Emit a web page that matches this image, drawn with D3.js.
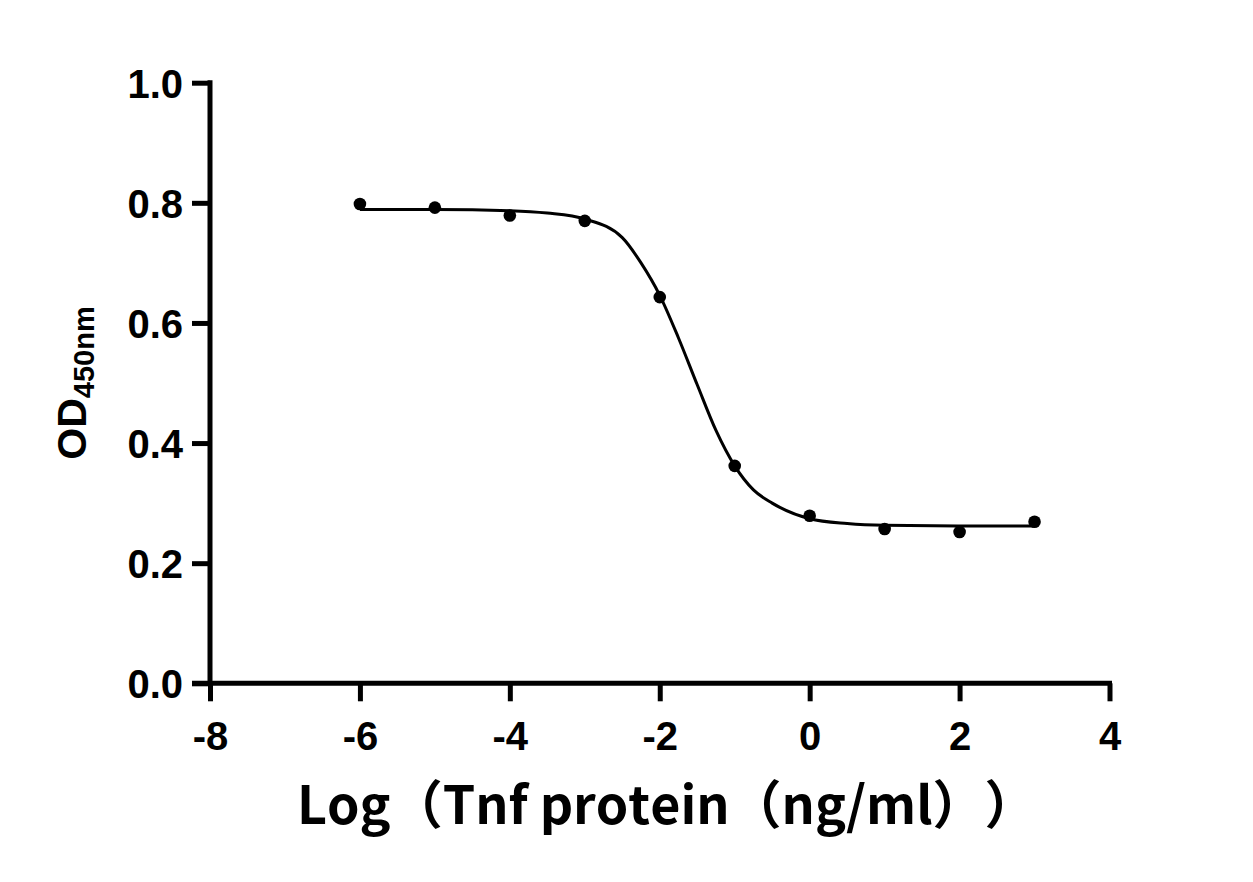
<!DOCTYPE html>
<html>
<head>
<meta charset="utf-8">
<script src="https://cdn.jsdelivr.net/npm/d3@7"></script>
<style>
  body { margin: 0; background: #fff; }
  svg { display: block; }
  .tick text { font-family: "Liberation Sans", Arial, sans-serif; font-weight: bold; }
  .xtitle { text-spacing-trim: space-all; font-kerning: none; }
</style>
</head>
<body>
<div id="chart"></div>
<script>
// measured points (log dose vs OD450)
var logDose = [-6, -5, -4, -3, -2, -1, 0, 1, 2, 3];
var odValues = [0.798, 0.792, 0.779, 0.770, 0.643, 0.362, 0.279, 0.257, 0.252, 0.269];

// fitted curve
var curveX = [-6, -5, -4, -3.5, -3, -2.5, -2.25, -2, -1.75, -1.5, -1.25, -1, -0.75, -0.5, 0, 0.5, 1, 2, 3];
var curveY = [0.789, 0.789, 0.787, 0.783, 0.773, 0.742, 0.700, 0.646, 0.575, 0.497, 0.421, 0.362, 0.322, 0.300, 0.274, 0.266, 0.263, 0.262, 0.262];

var xTicks = [-8, -6, -4, -2, 0, 2, 4];
var yTicks = [0.0, 0.2, 0.4, 0.6, 0.8, 1.0];

var W = 1253, H = 882;
var svg = d3.select('#chart').append('svg').attr('width', W).attr('height', H);

var x = d3.scaleLinear().domain([-8, 4]).range([210, 1109.5]);
var y = d3.scaleLinear().domain([0, 1]).range([683.3, 82.7]);
var axisW = 5;

// y axis
var yAxis = svg.append('g')
  .attr('transform', 'translate(210,0)')
  .call(d3.axisLeft(y).tickValues(yTicks).tickFormat(d3.format('.1f')).tickSize(18).tickPadding(9).tickSizeOuter(0));
yAxis.select('.domain').attr('stroke-width', axisW).attr('stroke', '#000')
  .attr('d', 'M0,' + (y(1) - axisW / 2) + 'V' + y(0));
yAxis.selectAll('.tick line').attr('stroke-width', axisW).attr('stroke', '#000');
yAxis.selectAll('.tick text').attr('font-size', 40).attr('fill', '#000').attr('dy', '0.36em');

// x axis, plain hyphen for negatives like the original
var xAxis = svg.append('g')
  .attr('transform', 'translate(0,683.3)')
  .call(d3.axisBottom(x).tickValues(xTicks).tickFormat(function(d) { return String(d); }).tickSize(18).tickPadding(20).tickSizeOuter(0));
xAxis.select('.domain').attr('stroke-width', axisW).attr('stroke', '#000')
  .attr('d', 'M192,0H' + (x(4) + axisW / 2));
xAxis.selectAll('.tick line').attr('stroke-width', axisW).attr('stroke', '#000');
xAxis.selectAll('.tick text').attr('font-size', 40).attr('fill', '#000');

// fitted curve
var line = d3.line()
  .x(function(d, i) { return x(curveX[i]); })
  .y(function(d) { return y(d); })
  .curve(d3.curveMonotoneX);
svg.append('path')
  .datum(curveY)
  .attr('d', line)
  .attr('fill', 'none')
  .attr('stroke', '#000')
  .attr('stroke-width', 3);

// points
svg.append('g').selectAll('circle')
  .data(odValues)
  .enter().append('circle')
    .attr('cx', function(d, i) { return x(logDose[i]); })
    .attr('cy', function(d) { return y(d); })
    .attr('r', 6.3)
    .attr('fill', '#000');

// axis titles
svg.append('text')
  .attr('class', 'xtitle')
  .attr('x', 297).attr('y', 824)
  .attr('font-family', '"Noto Sans CJK SC", "Noto Sans", sans-serif')
  .attr('font-weight', 'bold')
  .attr('font-size', 52)
  .text('Log（Tnf protein（ng/ml））');

var yt = svg.append('text')
  .attr('transform', 'translate(86,383) rotate(-90)')
  .attr('text-anchor', 'middle')
  .attr('font-family', '"Liberation Sans", Arial, sans-serif')
  .attr('font-weight', 'bold')
  .attr('font-size', 41);
yt.append('tspan').text('OD');
yt.append('tspan').attr('font-size', 29).attr('dy', 8).text('450nm');
</script>
</body>
</html>
